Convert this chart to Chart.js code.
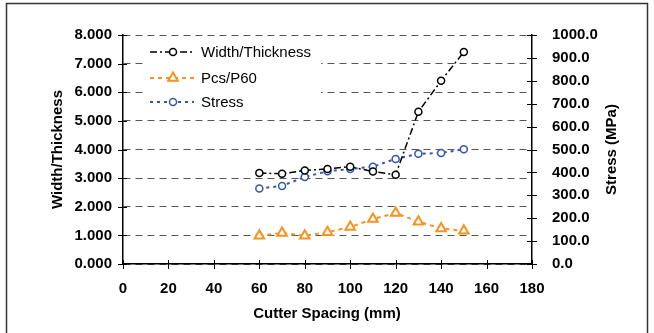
<!DOCTYPE html>
<html>
<head>
<meta charset="utf-8">
<script src="https://cdn.jsdelivr.net/npm/chart.js@4"></script>
<style>
  body { margin: 0; background: #fff; }
</style>
</head>
<body>
<canvas id="myChart" width="654" height="333"></canvas>
<script>
// data
var spacing = [60, 70, 80, 90, 100, 110, 120, 130, 140, 150];
var widthThickness = [3.18, 3.15, 3.27, 3.32, 3.40, 3.23, 3.12, 5.32, 6.40, 7.41];
var pcsP60 = [0.99, 1.08, 0.99, 1.11, 1.29, 1.57, 1.78, 1.48, 1.24, 1.16];
var stress = [330, 341, 380, 405, 415, 425, 459, 481, 485, 501];

var xTicks = [0, 20, 40, 60, 80, 100, 120, 140, 160, 180];
var leftTicks = [0, 1, 2, 3, 4, 5, 6, 7, 8];
var rightTicks = [0, 100, 200, 300, 400, 500, 600, 700, 800, 900, 1000];

var FONT = "'Liberation Sans', Arial, sans-serif";

function pts(ys) {
    return spacing.map(function (x, i) { return { x: x, y: ys[i] }; });
}

// titles, crossing tick marks, frame and legend
var extras = {
    id: 'extras',
    afterDraw: function (chart) {
        var ctx = chart.ctx;
        var s = chart.scales;
        var area = chart.chartArea;
        ctx.save();

        // frame
        ctx.strokeStyle = '#333';
        ctx.lineWidth = 1.5;
        ctx.strokeRect(6.5, 3.5, 641, 340);

        // tick marks crossing the axes
        ctx.strokeStyle = '#000';
        ctx.lineWidth = 1;
        ctx.beginPath();
        s.y.ticks.forEach(function (t) {
            var py = Math.round(s.y.getPixelForValue(t.value)) + 0.5;
            ctx.moveTo(area.left - 5, py); ctx.lineTo(area.left + 4, py);
        });
        s.y1.ticks.forEach(function (t) {
            var py = Math.round(s.y1.getPixelForValue(t.value)) + 0.5;
            ctx.moveTo(area.right - 5, py); ctx.lineTo(area.right + 5, py);
        });
        s.x.ticks.forEach(function (t) {
            var px = Math.round(s.x.getPixelForValue(t.value)) + 0.5;
            ctx.moveTo(px, area.bottom - 4); ctx.lineTo(px, area.bottom + 5);
        });
        ctx.stroke();

        // axis titles
        ctx.fillStyle = '#000';
        ctx.font = 'bold 15px ' + FONT;
        ctx.textAlign = 'center';
        ctx.textBaseline = 'middle';
        ctx.fillText('Cutter Spacing (mm)', 327, 314);
        var midY = (area.top + area.bottom) / 2;
        ctx.save();
        ctx.translate(58, midY);
        ctx.rotate(-Math.PI / 2);
        ctx.fillText('Width/Thickness', 0, 0);
        ctx.restore();
        ctx.save();
        ctx.translate(612, midY);
        ctx.rotate(-Math.PI / 2);
        ctx.fillText('Stress (MPa)', 0, 0);
        ctx.restore();

        // legend (white box hides the grid behind it)
        ctx.fillStyle = '#fff';
        ctx.fillRect(143, 40, 178, 73);
        var rows = [52, 78, 102];
        chart.data.datasets.forEach(function (ds, i) {
            var y = rows[i];
            ctx.save();
            ctx.strokeStyle = ds.borderColor;
            ctx.lineWidth = ds.borderWidth;
            ctx.setLineDash(ds.borderDash);
            ctx.beginPath();
            ctx.moveTo(150, y); ctx.lineTo(194, y);
            ctx.stroke();
            ctx.setLineDash([]);
            ctx.fillStyle = '#fff';
            ctx.strokeStyle = ds.pointBorderColor;
            ctx.lineWidth = ds.pointBorderWidth;
            Chart.helpers.drawPoint(ctx, {
                pointStyle: ds.pointStyle, radius: ds.pointRadius,
                rotation: 0, borderWidth: ds.pointBorderWidth
            }, 173, y);
            ctx.restore();
            ctx.fillStyle = '#000';
            ctx.font = '15px ' + FONT;
            ctx.textAlign = 'left';
            ctx.fillText(ds.label, 201, y + 1);
        });
        ctx.restore();
    }
};

var myContext = document.getElementById("myChart").getContext('2d');
var myChart = new Chart(myContext, {
    type: 'line',
    data: {
        datasets: [{
            label: 'Width/Thickness',
            data: pts(widthThickness),
            yAxisID: 'y',
            borderColor: '#000',
            borderWidth: 1.5,
            borderDash: [7, 3, 2, 3],
            pointStyle: 'circle',
            pointRadius: 3.5,
            pointBorderWidth: 1.5,
            pointBorderColor: '#000',
            pointBackgroundColor: '#fff'
        }, {
            label: 'Pcs/P60',
            data: pts(pcsP60),
            yAxisID: 'y',
            borderColor: '#F7931E',
            borderWidth: 2,
            borderDash: [4, 4],
            pointStyle: 'triangle',
            pointRadius: 5.5,
            pointBorderWidth: 2,
            pointBorderColor: '#F7931E',
            pointBackgroundColor: '#fff'
        }, {
            label: 'Stress',
            data: pts(stress),
            yAxisID: 'y1',
            borderColor: '#3355B0',
            borderWidth: 2,
            borderDash: [3, 4],
            pointStyle: 'circle',
            pointRadius: 3.5,
            pointBorderWidth: 1.5,
            pointBorderColor: '#3355B0',
            pointBackgroundColor: '#fff'
        }]
    },
    options: {
        responsive: false,
        animation: false,
        devicePixelRatio: 1,
        layout: { padding: { top: 35, left: 0, right: 0, bottom: 0 } },
        plugins: { legend: { display: false }, tooltip: { enabled: false } },
        scales: {
            x: {
                type: 'linear',
                min: 0, max: 180,
                afterFit: function (scale) { scale.height = 69; },
                afterBuildTicks: function (scale) {
                    scale.ticks = xTicks.map(function (v) { return { value: v }; });
                },
                grid: { display: false },
                border: { display: true, color: '#000', width: 1.5 },
                ticks: {
                    color: '#000', padding: 8, maxRotation: 0,
                    font: { family: FONT, size: 15, weight: 'bold' }
                }
            },
            y: {
                position: 'left',
                min: 0, max: 8,
                afterFit: function (scale) { scale.width = 123; },
                afterBuildTicks: function (scale) {
                    scale.ticks = leftTicks.map(function (v) { return { value: v }; });
                },
                grid: { color: '#555', lineWidth: 1, drawTicks: false },
                border: { display: true, color: '#000', width: 1.5, dash: [7, 5] },
                ticks: {
                    color: '#000', padding: 11,
                    font: { family: FONT, size: 15, weight: 'bold' },
                    callback: function (v) { return v.toFixed(3); }
                }
            },
            y1: {
                position: 'right',
                min: 0, max: 1000,
                afterFit: function (scale) { scale.width = 122; },
                afterBuildTicks: function (scale) {
                    scale.ticks = rightTicks.map(function (v) { return { value: v }; });
                },
                grid: { display: false, drawOnChartArea: false },
                border: { display: true, color: '#000', width: 1.5 },
                ticks: {
                    color: '#000', padding: 12,
                    font: { family: FONT, size: 15, weight: 'bold' },
                    callback: function (v) { return v.toFixed(1); }
                }
            }
        }
    },
    plugins: [extras]
});
</script>
</body>
</html>
